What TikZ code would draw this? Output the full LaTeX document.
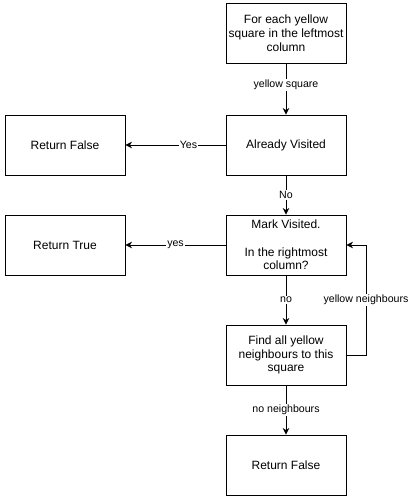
\documentclass[tikz,border=0pt]{standalone}
\usepackage{fontspec}
\setmainfont{Liberation Sans}
\usetikzlibrary{positioning,calc,arrows.meta}
\definecolor{dark}{HTML}{000000}
\tikzset{
  stepbox/.style={draw=dark, line width=0.9pt, fill=white, text=dark, align=center,
                  minimum width=120pt, minimum height=60pt, inner sep=2pt,
                  font=\fontsize{12}{13.8}\selectfont},
  flow/.style   ={-{Stealth[length=6.5pt,width=6.5pt,inset=2pt]}, line width=0.9pt, draw=dark},
  lab/.style    ={fill=white, text=dark, inner sep=1pt, font=\fontsize{10.6}{12}\selectfont},
}

\begin{document}
\begin{tikzpicture}[x=1pt,y=-1pt]
  \useasboundingbox (0,0) rectangle (419,501);

  % ---- main column ----
  \node[stepbox] (start) at (286,33)  {For each yellow\\square in the leftmost\\column};
  \node[stepbox] (seen)  at (286,145) {Already Visited};
  \node[stepbox] (mark)  at (286,245) {Mark Visited.\\[13.8pt]In the rightmost\\column?};
  \node[stepbox] (find)  at (286,355) {Find all yellow\\neighbours to this\\square};
  \node[stepbox] (none)  at (286,465) {Return False};

  % ---- left column ----
  \node[stepbox] (retf)  at (65,145)  {Return False};
  \node[stepbox] (rett)  at (65,245)  {Return True};

  % ---- connectors ----
  \draw[flow] (start) -- node[lab, pos=0.42] {yellow square} (seen);
  \draw[flow] (seen)  -- node[lab, pos=0.37] {Yes} (retf);
  \draw[flow] (seen)  -- node[lab] {No} (mark);
  \draw[flow] (mark)  -- node[lab] {yes} (rett);
  \draw[flow] (mark)  -- node[lab] {no} (find);
  \draw[flow] (find)  -- node[lab] {no neighbours} (none);

  % ---- loop back ----
  \coordinate (loop) at (366,355);
  \draw[flow] (find.east) -- (loop) -- node[lab, pos=0.5] {yellow neighbours} (loop |- mark.east) -- (mark.east);

\end{tikzpicture}
\end{document}
